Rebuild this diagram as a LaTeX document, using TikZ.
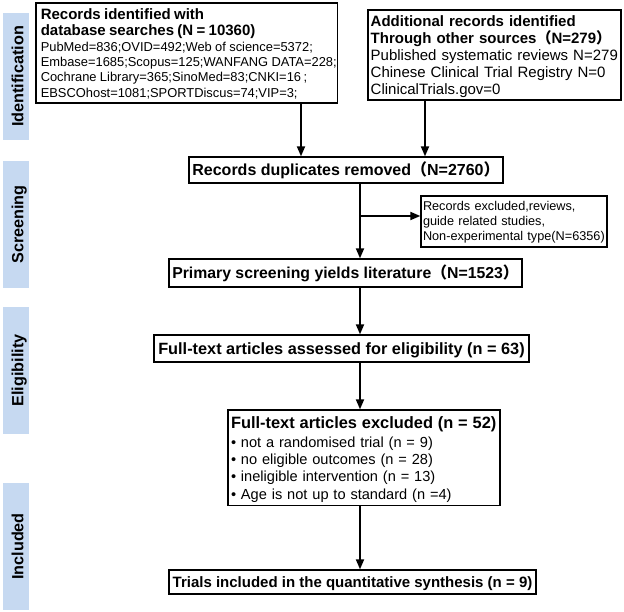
\documentclass[tikz,border=0pt]{standalone}
\usepackage{fontspec}
\setmainfont{Liberation Sans}
\newfontfamily\cjk{Noto Sans CJK SC}
\usetikzlibrary{arrows.meta}
\definecolor{bandblue}{RGB}{198,217,241}
\newcommand{\fwl}{{\cjk （}}
\newcommand{\fwr}{{\cjk ）}}
\begin{document}
\begin{tikzpicture}[x=1pt,y=-1pt,
  box/.style={draw, line width=1.3pt, inner sep=0pt},
  multi/.style={box, align=left},
  band/.style={fill=bandblue, rotate=90, inner sep=0pt, minimum width=127pt,
    minimum height=26pt, font=\bfseries\fontsize{16.2}{18}\selectfont,
    text height=14.6pt, text depth=0pt},
  arr/.style={line width=1.8pt, -{Triangle[length=10pt,width=8pt]}},
]
\useasboundingbox (0,0) rectangle (624,612);

% phase bands
\node[band] (bid) at (16,76.5) {Identification};
\node[band] (bsc) at (16,224.5) {Screening};
\node[band] (bel) at (16,370.5) {Eligibility};
\node[band] (bin) at (16,546.5) {Included};

% boxes
\node[multi, minimum width=301.5pt, minimum height=100pt, text width=292pt] (b1) at (186.75,53)
{{\bfseries\fontsize{15}{16}\selectfont\rule{0pt}{14pt}Records identified with\\database searches (N = 10360)\par}%
{\fontsize{12.9}{15.3}\selectfont PubMed=836;OVID=492;Web~of~science=5372;\\Embase=1685;Scopus=125;WANFANG~DATA=228;\\Cochrane~Library=365;SinoMed=83;CNKI=16\hspace{2.5pt};\\EBSCOhost=1081;SPORTDiscus=74;VIP=3;\rule[-3pt]{0pt}{3pt}\par}};

\node[multi, minimum width=253pt, minimum height=90pt, text width=247.6pt,
  font=\fontsize{15}{17}\selectfont] (b2) at (494.5,55)
{\rule{0pt}{16pt}{\bfseries Additional records identified\\Through other sources\fwl N=279\fwr}\\Published systematic reviews N=279\\Chinese Clinical Trial Registry N=0\\ClinicalTrials.gov=0\rule[-4pt]{0pt}{4pt}};

\node[box, minimum width=314pt, minimum height=26pt,
  font=\bfseries\fontsize{16}{18}\selectfont, text height=11.5pt, text depth=0pt] (b3) at (346,170)
{Records duplicates removed\fwl N=2760\fwr};

\node[multi, minimum width=186pt, minimum height=51pt, text width=182pt,
  font=\fontsize{12.7}{15}\selectfont] (b5) at (514,221.5)
{\rule{0pt}{12pt}Records excluded,reviews,\\guide related studies,\\\mbox{Non-experimental~type(N=6356)}\rule[-3pt]{0pt}{3pt}};

\node[box, minimum width=353pt, minimum height=28pt,
  font=\bfseries\fontsize{15.8}{18}\selectfont, text height=11.3pt, text depth=0pt] (b4) at (345.5,273)
{Primary screening yields literature\fwl N=1523\fwr};

\node[box, minimum width=375pt, minimum height=27pt,
  font=\bfseries\fontsize{16.3}{18}\selectfont, text height=11.7pt, text depth=0pt] (b6) at (341.5,348.5)
{Full-text articles assessed for eligibility (n = 63)};

\node[multi, minimum width=272pt, minimum height=95.5pt, text width=266pt,
  font=\fontsize{14.6}{17.2}\selectfont] (b7) at (364,457.75)
{{\bfseries\fontsize{16.4}{18}\selectfont\rule{0pt}{16pt}Full-text articles excluded (n = 52)\par}\vspace{1.3pt}%
\noindent • not a randomised trial (n = 9)\\• no eligible outcomes (n = 28)\\• ineligible intervention (n = 13)\\• Age is not up to standard (n =4)\rule[-3.5pt]{0pt}{3.5pt}};

\node[box, minimum width=367pt, minimum height=24pt,
  font=\bfseries\fontsize{15}{18}\selectfont, text height=10.7pt, text depth=0pt] (b8) at (352.5,582)
{Trials included in the quantitative synthesis (n = 9)};

% connectors
\coordinate (c1) at (301,0);
\coordinate (c2) at (425,0);
\coordinate (sp) at (360,216);
\draw[arr] (b1.south -| c1) -- (b3.north -| c1);
\draw[arr] (b2.south -| c2) -- (b3.north -| c2);
\draw[arr] (b3.south -| sp) -- (b4.north -| sp);
\draw[arr] (sp) -- (sp -| b5.west);
\draw[arr] (b4.south -| sp) -- (b6.north -| sp);
\draw[arr] (b6.south -| sp) -- (b7.north -| sp);
\draw[arr] (b7.south -| sp) -- (b8.north -| sp);
\end{tikzpicture}
\end{document}
